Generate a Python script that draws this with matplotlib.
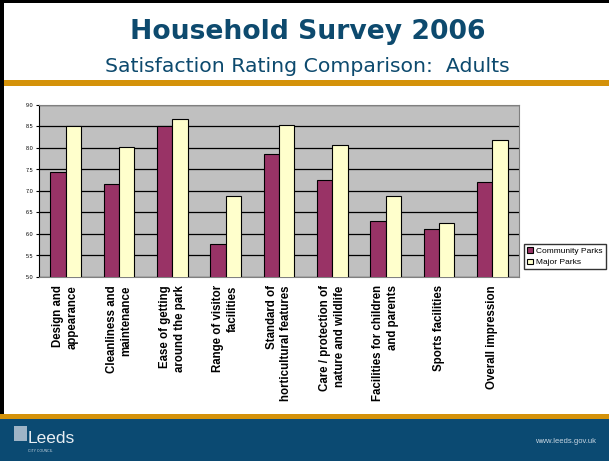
import matplotlib.pyplot as plt
import numpy as np
from matplotlib.patches import Rectangle

categories = ['Design and\nappearance', 'Cleanliness and\nmaintenance',
              'Ease of getting\naround the park', 'Range of visitor\nfacilities',
              'Standard of\nhorticultural features', 'Care / protection of\nnature and wildlife',
              'Facilities for children\nand parents', 'Sports facilities', 'Overall impression']
community = [7.44, 7.17, 8.50, 5.76, 7.86, 7.26, 6.30, 6.12, 7.21]
major = [8.50, 8.02, 8.67, 6.89, 8.53, 8.06, 6.88, 6.26, 8.19]
yticks = [5.0, 5.5, 6.0, 6.5, 7.0, 7.5, 8.0, 8.5, 9.0]

plt.rcParams['font.family'] = ['Liberation Sans', 'DejaVu Sans']

W, H = 609, 461
fig = plt.figure(figsize=(W / 100, H / 100), dpi=100)
fig.patch.set_facecolor('white')


def px_rect(x0, y0, x1, y1, color):
    # rectangle in pixel coords, y from top
    fig.add_artist(Rectangle((x0 / W, 1 - y1 / H), (x1 - x0) / W, (y1 - y0) / H,
                             transform=fig.transFigure, color=color, lw=0))


# slide decoration
blue = '#0b4a72'
gold = '#d4920a'
px_rect(0, 80, W, 86, gold)
px_rect(0, 419, W, H, blue)
px_rect(0, 414, W, 419, gold)
px_rect(0, 0, 4, 414, 'black')
px_rect(0, 0, W, 3, 'black')
px_rect(14, 426, 27, 441, '#9fb4c6')

fig.text(0.505, 1 - 39.3 / H, 'Household Survey 2006', ha='center', va='baseline',
         fontsize=19.2, fontweight='bold', color='#0d4a6e', family='DejaVu Sans')
fig.text(0.505, 1 - 71.7 / H, 'Satisfaction Rating Comparison:  Adults', ha='center',
         va='baseline', fontsize=14.7, color='#0d4a6e', family='DejaVu Sans')
fig.text(28 / W, 1 - 438 / H, 'Leeds', ha='left', va='center', fontsize=12.5, color='#e8eef3')
fig.text(28 / W, 1 - 451 / H, 'CITY COUNCIL', ha='left', va='center', fontsize=2.5, color='#c8d6e2')
fig.text(596 / W, 1 - 441 / H, 'www.leeds.gov.uk', ha='right', va='center', fontsize=5.5,
         color='#c8d6e2')

ax = fig.add_axes([39 / W, 1 - 277 / H, 480 / W, 172 / H])
ax.set_facecolor('#c0c0c0')
x = np.arange(len(categories))
w = 0.287
ax.bar(x - w / 2, community, w, color='#993366', edgecolor='black', lw=0.8,
       label='Community Parks', zorder=3)
ax.bar(x + w / 2, major, w, color='#ffffcc', edgecolor='black', lw=0.8,
       label='Major Parks', zorder=3)
ax.set_ylim(5.0, 9.0)
ax.set_xlim(-0.5, len(categories) - 0.5)
ax.set_yticks(yticks)
ax.set_yticklabels(['%.1f' % v for v in yticks], fontsize=4)
ax.yaxis.grid(True, color='black', lw=0.9, zorder=1)
ax.set_axisbelow(True)
ax.set_xticks(x)
ax.set_xticklabels(categories, rotation=90, fontsize=8.3, fontweight='bold', ha='center',
                   va='top', multialignment='right', linespacing=1.3)
ax.tick_params(axis='x', length=0, pad=6)
ax.tick_params(axis='y', length=2, width=0.8, pad=2)
for s in ['top', 'right', 'bottom']:
    ax.spines[s].set_color('#808080')
ax.spines['left'].set_color('black')

ax.legend(loc='upper left', bbox_to_anchor=(524 / W, 1 - 244 / H), bbox_transform=fig.transFigure,
          fontsize=6, frameon=True, fancybox=False, edgecolor='black', handlelength=0.7,
          handleheight=0.7, borderpad=0.35, labelspacing=0.45, handletextpad=0.4,
          borderaxespad=0)

fig.savefig('out.png', dpi=100)
